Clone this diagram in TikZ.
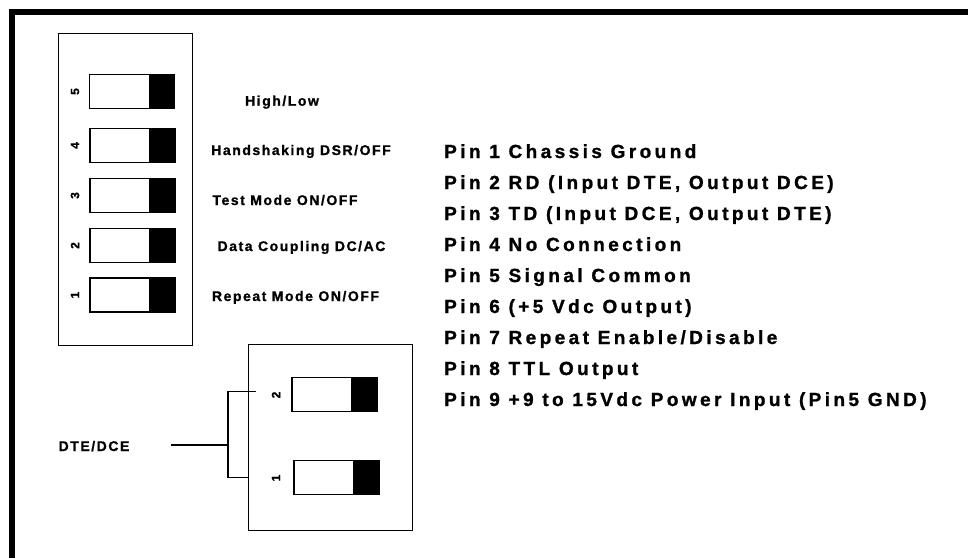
\documentclass[tikz,border=0pt]{standalone}
\usepackage{fontspec}
\usetikzlibrary{calc}
\setmainfont{Liberation Sans}
\newfontfamily\pinfont{Liberation Sans Bold}[LetterSpace=18, FakeBold=1.2]
\newfontfamily\labfont{Liberation Sans Bold}[LetterSpace=11, FakeBold=1]
\newfontfamily\numfont{Liberation Sans Bold}[FakeBold=1]
\tikzset{
 panel/.style={draw, line width=1.3pt, rectangle, inner sep=0pt, anchor=north west},
 sw/.style={draw, line width=1.3pt, rectangle, minimum width=85pt, minimum height=34pt, inner sep=0pt,
   path picture={\fill ([xshift=-26pt]path picture bounding box.north east) rectangle (path picture bounding box.south east);}},
 num/.style={font=\numfont\fontsize{12}{12}\selectfont, rotate=90, inner sep=0pt},
 lab/.style={font=\labfont\fontsize{14}{16}\selectfont, inner sep=0pt, anchor=base},
 pin/.style={font=\pinfont\fontsize{19}{21}\selectfont, inner sep=0pt, anchor=base west},
 wire/.style={line width=1.3pt},
 frame/.style={line width=6pt},
}
\begin{document}
\begin{tikzpicture}[x=1pt,y=-1pt]
\useasboundingbox (0,0) rectangle (968,558);
\fill[white] (0,0) rectangle (968,558);
% outer frame (top and left edges)
\draw[frame] (12,558) -- (12,12) -- (968,12);

% upper DIP switch panel
\node[panel, minimum width=134pt, minimum height=312pt] (lp) at (58,33) {};
\node[sw] (s5) at (132,91.5) {};
\node[sw] (s4) at (132.5,145.5) {};
\node[sw] (s3) at (132.5,195.5) {};
\node[sw] (s2) at (132.5,245.5) {};
\node[sw] (s1) at (132.5,295) {};
\node[num] (n5) at (75,91.5) {5};
\node[num] (n4) at (75,145.5) {4};
\node[num] (n3) at (75,195.5) {3};
\node[num] (n2) at (75,245.5) {2};
\node[num] (n1) at (75,295) {1};

\node[lab] (l5) at (282,105.7) {High/Low};
\node[lab] (l4) at (301,155) {Handshaking DSR/OFF};
\node[lab] (l3) at (285,205) {Test Mode ON/OFF};
\node[lab] (l2) at (301.5,251) {Data Coupling DC/AC};
\node[lab] (l1) at (295.5,301) {Repeat Mode ON/OFF};

% lower DTE/DCE switch panel
\node[panel, minimum width=164pt, minimum height=186pt] (bp) at (248,344) {};
\node[sw] (b2) at (334.5,394.5) {};
\node[sw] (b1) at (336.5,477.5) {};
\node[num] (m2) at (276,395) {2};
\node[num] (m1) at (276,478) {1};

\node[lab] (dte) at (94,451) {DTE/DCE};
\coordinate (ls) at (171,445);
\coordinate (j) at (228,445);
\coordinate (t2) at (256,391.7);
\coordinate (t1) at (248,477.7);
\draw[wire] (ls) -- (j);
\draw[line width=2.2pt] ($(j)+(-25,0)$) -- (j);
\draw[wire] (t2) -- (228,391.7) -- (228,477.7) -- (t1);

% pin list
\node[pin] (p1) at (444,158) {Pin 1 Chassis Ground};
\node[pin] (p2) at (444,189) {Pin 2 RD (Input DTE, Output DCE)};
\node[pin] (p3) at (444,220) {Pin 3 TD (Input DCE, Output DTE)};
\node[pin] (p4) at (444,251) {Pin 4 No Connection};
\node[pin] (p5) at (444,282) {Pin 5 Signal Common};
\node[pin] (p6) at (444,313) {Pin 6 (+5 Vdc Output)};
\node[pin] (p7) at (444,344) {Pin 7 Repeat Enable/Disable};
\node[pin] (p8) at (444,375) {Pin 8 TTL Output};
\node[pin] (p9) at (444,406) {Pin 9 +9 to 15Vdc Power Input (Pin5 GND)};
\end{tikzpicture}
\end{document}
